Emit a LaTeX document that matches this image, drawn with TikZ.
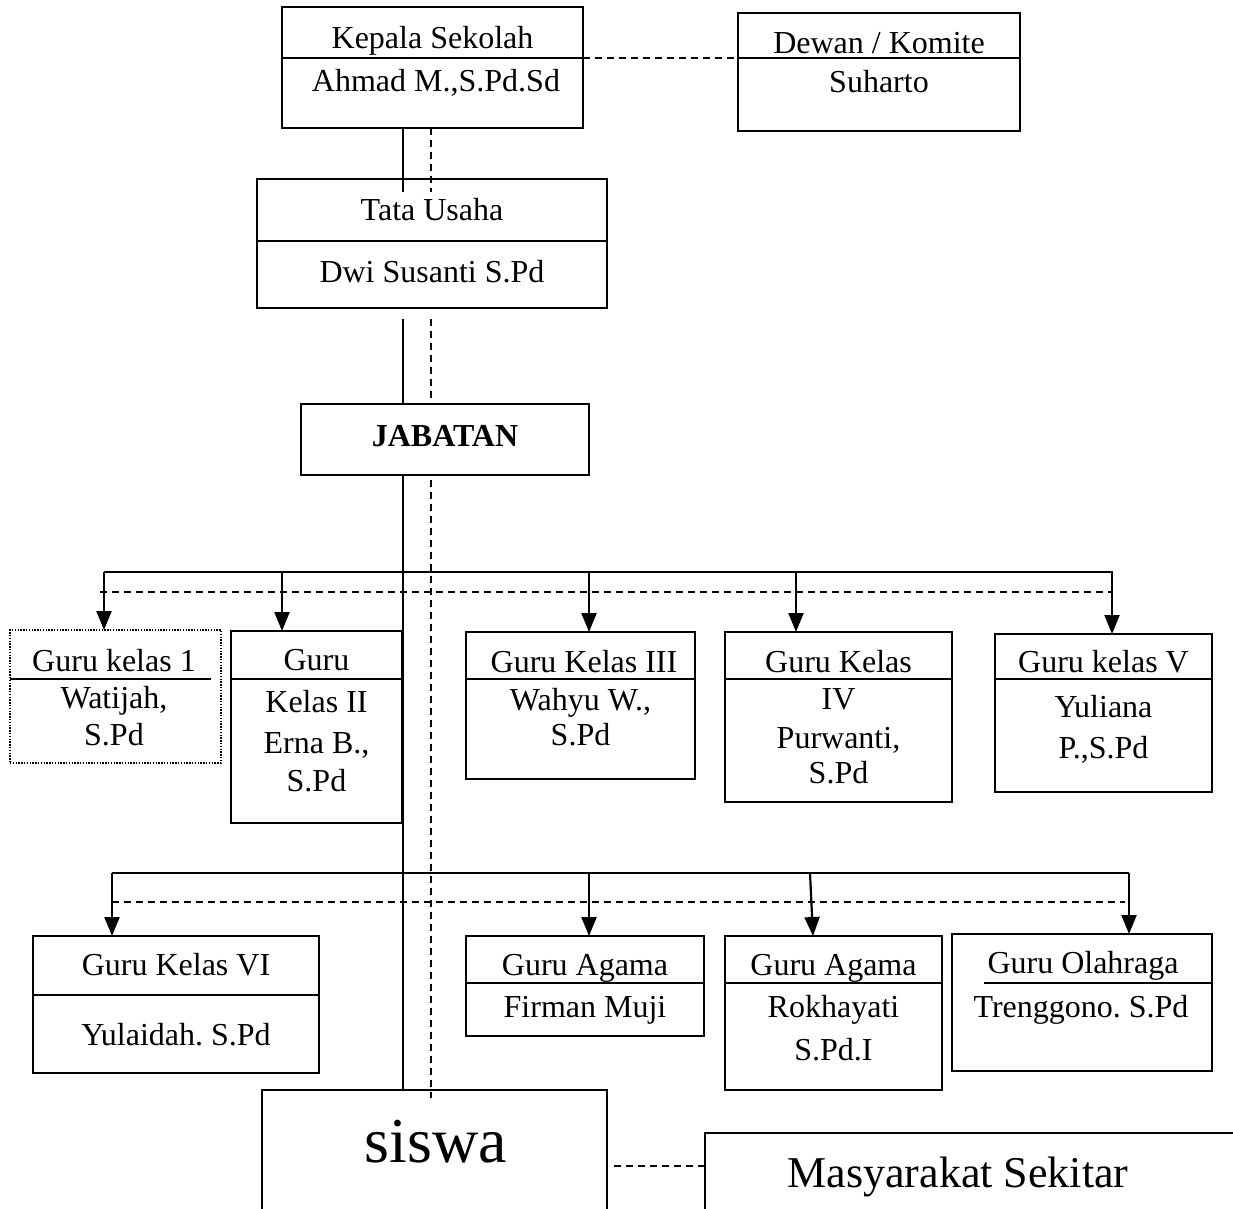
\documentclass[tikz,border=0pt]{standalone}
\usepackage{fontspec}
\setmainfont{Liberation Serif}
\usetikzlibrary{arrows.meta}
\frenchspacing
\begin{document}
\begin{tikzpicture}[x=1pt,y=-1pt,
 box/.style={draw, line width=2.2pt, inner sep=0pt, outer sep=0pt, anchor=north west},
 dotbox/.style={box, line width=1.4pt, dash pattern=on 1.4pt off 1.4pt},
 txt/.style={inner sep=0pt, anchor=base, font=\fontsize{32}{38}\selectfont},
 divline/.style={line width=2pt},
 solidln/.style={line width=2.2pt},
 dashln/.style={line width=1.7pt, dash pattern=on 7pt off 5pt},
 arr/.style={line width=2.2pt, -{Triangle[length=19pt,width=15pt]}},
]
\clip (0,0) rectangle (1233,1208);
\fill[white] (0,0) rectangle (1233,1208);

% ---------- boxes ----------
\node[box, minimum width=301pt, minimum height=121pt] (kepala) at (282,7) {};
\node[box, minimum width=282pt, minimum height=118pt] (dewan) at (738,13) {};
\node[box, minimum width=350pt, minimum height=129pt] (tata) at (257,179) {};
\node[box, minimum width=288pt, minimum height=71pt] (jabatan) at (301,404) {};
\node[dotbox, minimum width=211pt, minimum height=133pt] (g1) at (10,630) {};
\node[box, minimum width=171pt, minimum height=192pt] (g2) at (231,631) {};
\node[box, minimum width=229pt, minimum height=147pt] (g3) at (466,632) {};
\node[box, minimum width=227pt, minimum height=170pt] (g4) at (725,632) {};
\node[box, minimum width=217pt, minimum height=158pt] (g5) at (995,634) {};
\node[box, minimum width=286pt, minimum height=137pt] (g6) at (33,936) {};
\node[box, minimum width=238pt, minimum height=100pt] (ga1) at (466,936) {};
\node[box, minimum width=217pt, minimum height=154pt] (ga2) at (725,936) {};
\node[box, minimum width=260pt, minimum height=137pt] (go) at (952,934) {};
\node[box, minimum width=345pt, minimum height=140pt] (siswa) at (262,1090) {};
\node[box, minimum width=540pt, minimum height=120pt] (masy) at (705,1133) {};

% ---------- dividers ----------
\draw[divline] (282,58) -- (583,58);
\draw[divline] (738,58) -- (1020,58);
\draw[divline] (257,241) -- (607,241);
\draw[divline] (10,679) -- (211,679);
\draw[divline] (231,679) -- (402,679);
\draw[divline] (466,679) -- (695,679);
\draw[divline] (725,679) -- (952,679);
\draw[divline] (995,679) -- (1212,679);
\draw[divline] (33,995) -- (319,995);
\draw[divline] (466,983) -- (704,983);
\draw[divline] (725,983) -- (942,983);
\draw[divline] (984,983) -- (1212,983);

% ---------- texts ----------
\node[txt] (t1) at (432.5,48) {Kepala Sekolah};
\node[txt] (t2) at (436,91) {Ahmad M.,S.Pd.Sd};
\node[txt] (t3) at (879,53) {Dewan / Komite};
\node[txt] (t4) at (879,92) {Suharto};
\node[txt] (t5) at (432,220) {Tata Usaha};
\node[txt] (t6) at (432,282) {Dwi Susanti S.Pd};
\node[txt, font=\fontsize{32}{38}\selectfont\bfseries] (t7) at (445,446) {JABATAN};
\node[txt] (t8) at (114,671) {Guru kelas 1};
\node[txt] (t9) at (114,708) {Watijah,};
\node[txt] (t10) at (114,745) {S.Pd};
\node[txt] (t11) at (316.5,670) {Guru};
\node[txt] (t12) at (316.5,712) {Kelas II};
\node[txt] (t13) at (316.5,753) {Erna B.,};
\node[txt] (t14) at (316.5,791) {S.Pd};
\node[txt] (t15) at (584,672) {Guru Kelas III};
\node[txt] (t16) at (580.5,710) {Wahyu W.,};
\node[txt] (t17) at (580.5,745) {S.Pd};
\node[txt] (t18) at (838.5,672) {Guru Kelas};
\node[txt] (t19) at (838.5,709) {IV};
\node[txt] (t20) at (838.5,748) {Purwanti,};
\node[txt] (t21) at (838.5,783) {S.Pd};
\node[txt] (t22) at (1103.5,672) {Guru kelas V};
\node[txt] (t23) at (1103.5,717) {Yuliana};
\node[txt] (t24) at (1103.5,758) {P.,S.Pd};
\node[txt] (t25) at (176,975) {Guru Kelas VI};
\node[txt] (t26) at (176,1045) {Yulaidah. S.Pd};
\node[txt] (t27) at (585,975) {Guru Agama};
\node[txt] (t28) at (585,1017) {Firman Muji};
\node[txt] (t29) at (833.5,975) {Guru Agama};
\node[txt] (t30) at (833.5,1017) {Rokhayati};
\node[txt] (t31) at (833.5,1060) {S.Pd.I};
\node[txt] (t32) at (1083,973) {Guru Olahraga};
\node[txt] (t33) at (1081,1017) {Trenggono. S.Pd};
\node[txt, font=\fontsize{64}{70}\selectfont] (t34) at (436,1162) {siswa};
\node[txt, font=\fontsize{44}{50}\selectfont] (t35) at (958,1187) {Masyarakat Sekitar};

% ---------- coordinates ----------
\coordinate (sA) at (403,192);
\coordinate (dA) at (431,192);
\coordinate (sB1) at (403,319);
\coordinate (dB1) at (431,319);
\coordinate (dC1) at (431,480);
\coordinate (dC2) at (431,1098);
\coordinate (hL1) at (104,572);
\coordinate (hR1) at (1113,572);
\coordinate (dL1) at (100,592);
\coordinate (dR1) at (1113,592);
\coordinate (a2) at (282,572);
\coordinate (a3) at (589,572);
\coordinate (a4) at (796,572);
\coordinate (a5) at (1112,572);
\coordinate (hL2) at (112,873);
\coordinate (hR2) at (1129,873);
\coordinate (dL2) at (112,902);
\coordinate (dR2) at (1125,902);
\coordinate (b2) at (589,873);
\coordinate (b3) at (810,873);
\coordinate (b3e) at (813,936);

% ---------- main spine ----------
\draw[solidln] (kepala.south -| sA) -- (sA);
\draw[dashln] (kepala.south -| dA) -- (dA);
\draw[solidln] (sB1) -- (sB1 |- jabatan.north);
\draw[dashln] (dB1) -- (dB1 |- jabatan.north);
\draw[solidln] (jabatan.south -| sA) -- (siswa.north -| sA);
\draw[dashln] (dC1) -- (dC2);

% kepala -- dewan, siswa -- masyarakat
\draw[dashln] (kepala.east |- 0,58) -- (dewan.west |- 0,58);
\draw[dashln] (siswa.east |- 0,1166) ++(7,0) -- (masy.west |- 0,1166);

% ---------- upper row ----------
\draw[solidln] (hL1) -- (hR1);
\draw[dashln] (dL1) -- (dR1);
\draw[arr] (hL1) -- (hL1 |- g1.north);
\draw[arr] (a2) -- (a2 |- g2.north);
\draw[arr] (a3) -- (a3 |- g3.north);
\draw[arr] (a4) -- (a4 |- g4.north);
\draw[arr] (a5) -- (a5 |- g5.north);

% ---------- lower row ----------
\draw[solidln] (hL2) -- (hR2);
\draw[dashln] (dL2) -- (dR2);
\draw[arr] (hL2) -- (hL2 |- g6.north);
\draw[arr] (b2) -- (b2 |- ga1.north);
\draw[arr] (b3) -- (b3e);
\draw[arr] (hR2) -- (hR2 |- go.north);
\end{tikzpicture}
\end{document}
